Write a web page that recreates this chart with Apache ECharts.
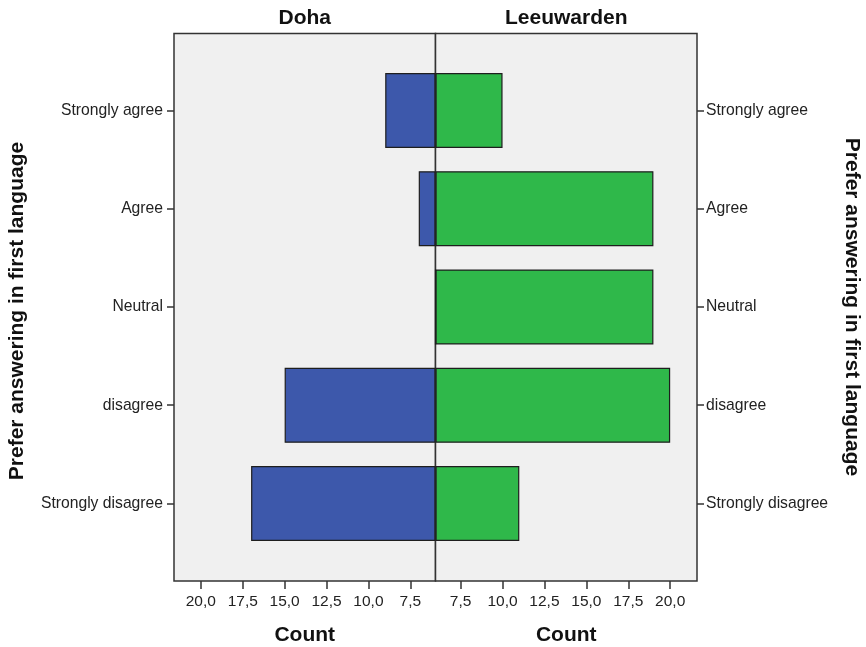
<!DOCTYPE html>
<html>
<head>
<meta charset="utf-8">
<style>
html,body{margin:0;padding:0;background:#fff;}
#chart{width:866px;height:647px;}
</style>
<script src="https://cdn.jsdelivr.net/npm/echarts@6/dist/echarts.min.js"></script>
</head>
<body>
<div id="chart"></div>
<script>
// Data
const categories = ['Strongly agree', 'Agree', 'Neutral', 'disagree', 'Strongly disagree'];
const dohaCounts = [9, 7, 6, 15, 17];
const leeuwardenCounts = [10, 19, 19, 20, 11];
const panelTitles = ['Doha', 'Leeuwarden'];
const tickValues = [7.5, 10, 12.5, 15, 17.5, 20];
const axisTitle = 'Prefer answering in first language';
const countTitle = 'Count';
const axisMin = 6;
const axisMax = 21.6;

const FONT = '"Liberation Sans", Arial, sans-serif';
const fmt = v => v.toFixed(1).replace('.', ',');

const chart = echarts.init(document.getElementById('chart'), null, {renderer: 'canvas'});

const tickCommon = {
  show: true, customValues: tickValues, length: 8, inside: false,
  lineStyle: {color: '#333', width: 1.5}
};
const labelCommon = {
  customValues: tickValues, formatter: fmt, margin: 13,
  color: '#222', fontSize: 15.5, fontFamily: FONT
};
const titleStyle = {fontSize: 21, fontWeight: 'bold', color: '#111', fontFamily: FONT};
const gridBase = {outerBoundsMode: 'none', containLabel: false};

const option = {
  backgroundColor: '#fff',
  animation: false,
  grid: [
    Object.assign({left: 174, right: 430.5, top: 61.4, bottom: 94.4}, gridBase),
    Object.assign({left: 435.5, right: 169, top: 61.4, bottom: 94.4}, gridBase),
    Object.assign({left: 174, right: 430.5, top: 33.5, bottom: 66, show: true, backgroundColor: '#f0f0f0', borderColor: '#333', borderWidth: 1.5, z: 0}, gridBase),
    Object.assign({left: 435.5, right: 169, top: 33.5, bottom: 66, show: true, backgroundColor: '#f0f0f0', borderColor: '#333', borderWidth: 1.5, z: 0}, gridBase)
  ],
  xAxis: [
    {gridIndex: 0, type: 'value', min: axisMin, max: axisMax, startValue: axisMin, inverse: true, position: 'bottom', offset: 28.4,
     axisLine: {show: false}, axisTick: tickCommon, axisLabel: labelCommon, splitLine: {show: false},
     name: countTitle, nameLocation: 'middle', nameGap: 44, nameTextStyle: titleStyle},
    {gridIndex: 1, type: 'value', min: axisMin, max: axisMax, startValue: axisMin, position: 'bottom', offset: 28.4,
     axisLine: {show: false}, axisTick: tickCommon, axisLabel: labelCommon, splitLine: {show: false},
     name: countTitle, nameLocation: 'middle', nameGap: 44, nameTextStyle: titleStyle},
    {gridIndex: 2, type: 'value', min: 0, max: 1, position: 'top',
     axisLine: {show: false}, axisTick: {show: false}, axisLabel: {show: false}, splitLine: {show: false},
     name: panelTitles[0], nameLocation: 'middle', nameGap: 5, nameTextStyle: titleStyle},
    {gridIndex: 3, type: 'value', min: 0, max: 1, position: 'top',
     axisLine: {show: false}, axisTick: {show: false}, axisLabel: {show: false}, splitLine: {show: false},
     name: panelTitles[1], nameLocation: 'middle', nameGap: 5, nameTextStyle: titleStyle}
  ],
  yAxis: [
    {gridIndex: 0, type: 'category', data: categories, inverse: true, position: 'left',
     axisLine: {show: false}, axisTick: {show: true, alignWithLabel: true, length: 7, lineStyle: {color: '#333', width: 1.5}},
     axisLabel: {margin: 11, color: '#222', fontSize: 15.7, fontFamily: FONT, padding: [6, 0, 0, 0]},
     name: axisTitle, nameLocation: 'middle', nameRotate: 90, nameGap: 146,
     nameTextStyle: Object.assign({padding: [0, 8, 0, 0]}, titleStyle)},
    {gridIndex: 1, type: 'category', data: categories, inverse: true, position: 'right',
     axisLine: {show: false}, axisTick: {show: true, alignWithLabel: true, length: 7, lineStyle: {color: '#333', width: 1.5}},
     axisLabel: {margin: 9, color: '#222', fontSize: 15.7, fontFamily: FONT, padding: [6, 0, 0, 0]},
     name: axisTitle, nameLocation: 'middle', nameRotate: -90, nameGap: 144, nameTextStyle: titleStyle},
    {gridIndex: 2, type: 'value', show: false},
    {gridIndex: 3, type: 'value', show: false}
  ],
  series: [
    {name: panelTitles[0], type: 'bar', xAxisIndex: 0, yAxisIndex: 0, data: dohaCounts, barWidth: 75, clip: true,
     itemStyle: {color: '#3d58ab', borderColor: '#1e1e1e', borderWidth: 1.2}},
    {name: panelTitles[1], type: 'bar', xAxisIndex: 1, yAxisIndex: 1, data: leeuwardenCounts, barWidth: 75, clip: true,
     itemStyle: {color: '#2fb84a', borderColor: '#1e1e1e', borderWidth: 1.2}}
  ]
};
chart.setOption(option);
</script>
</body>
</html>
